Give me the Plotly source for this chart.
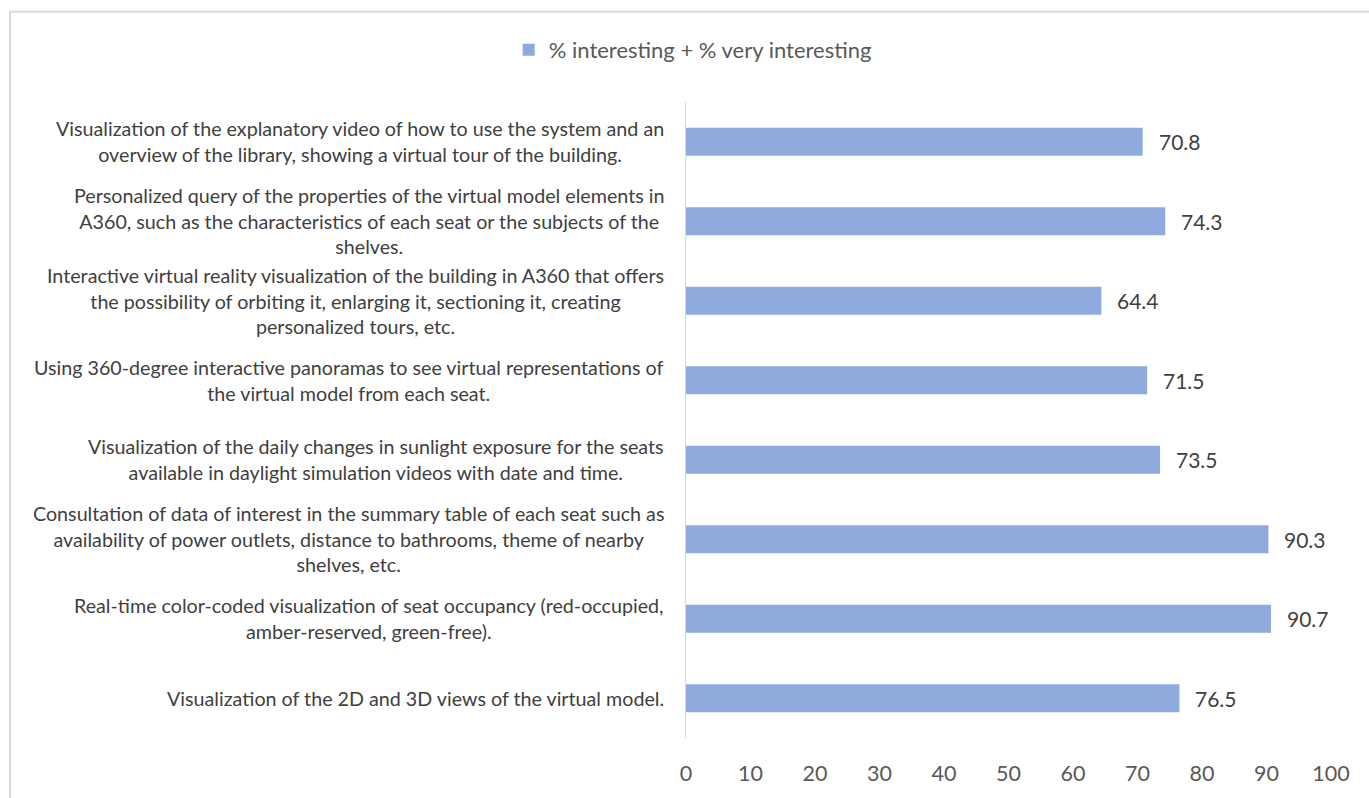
import plotly.graph_objects as go

categories = [
    "Visualization of the explanatory video of how to use the system and an<br>overview of the library, showing a virtual tour of the building.",
    "Personalized query of the properties of the virtual model elements in<br>A360, such as the characteristics of each seat or the subjects of the<br>shelves.",
    "Interactive virtual reality visualization of the building in A360 that offers<br>the possibility of orbiting it, enlarging it, sectioning it, creating<br>personalized tours, etc.",
    "Using 360-degree interactive panoramas to see virtual representations of<br>the virtual model from each seat.",
    "Visualization of the daily changes in sunlight exposure for the seats<br>available in daylight simulation videos with date and time.",
    "Consultation of data of interest in the summary table of each seat such as<br>availability of power outlets, distance to bathrooms, theme of nearby<br>shelves, etc.",
    "Real-time color-coded visualization of seat occupancy (red-occupied,<br>amber-reserved, green-free).",
    "Visualization of the 2D and 3D views of the virtual model.",
]
values = [70.8, 74.3, 64.4, 71.5, 73.5, 90.3, 90.7, 76.5]
series_name = "% interesting + % very interesting"
x_ticks = [0, 10, 20, 30, 40, 50, 60, 70, 80, 90, 100]

ids = list(range(len(categories)))

FONT = "Lato"
BAR = "#8FAADC"

fig = go.Figure()
fig.add_trace(go.Bar(
    x=values, y=ids, orientation="h", name=series_name,
    marker=dict(color=BAR, line=dict(width=0)),
    showlegend=True,
))

for i, (c, v) in enumerate(zip(categories, values)):
    fig.add_annotation(x=0, y=i, xref="x", yref="y", text=c, showarrow=False,
                       xanchor="right", yanchor="middle", align="center", xshift=-20,
                       font=dict(family=FONT, size=19.7, color="#404040"))
    fig.add_annotation(x=v, y=i, xref="x", yref="y", text=f"{v:.1f}", showarrow=False,
                       xanchor="left", yanchor="middle", xshift=14,
                       font=dict(family=FONT, size=21, color="#404040"))

W, H = 1369, 798
L, R, T, B = 686, 38, 102, 55
pw, ph = W - L - R, H - T - B

def px2paper_x(px):
    return (px - L) / pw

def px2paper_y(py):
    return (H - B - py) / ph

fig.add_shape(type="rect", xref="paper", yref="paper",
              x0=px2paper_x(10), x1=px2paper_x(W + 10),
              y0=px2paper_y(H + 10), y1=px2paper_y(11),
              line=dict(color="#D9D9D9", width=2), fillcolor="rgba(0,0,0,0)", layer="above")

fig.update_layout(
    width=W, height=H,
    margin=dict(l=L, r=R, t=T, b=B),
    paper_bgcolor="white", plot_bgcolor="white",
    bargap=0.65,
    font=dict(family=FONT, color="#595959"),
    legend=dict(orientation="h", xref="container", yref="container",
                x=0.506, y=1 - 50 / H, xanchor="center", yanchor="middle",
                font=dict(family=FONT, size=22, color="#595959")),
    xaxis=dict(range=[0, 100], tickvals=x_ticks, showgrid=False, zeroline=False,
               showline=False, ticks="", tickfont=dict(family=FONT, size=21.5, color="#595959"),
               ticklabelstandoff=20),
    yaxis=dict(range=[len(categories) - 0.5, -0.5], showticklabels=False, showgrid=False,
               zeroline=False, showline=True, linecolor="#D9D9D9", linewidth=1, ticks=""),
)

fig.write_html("out.html")
